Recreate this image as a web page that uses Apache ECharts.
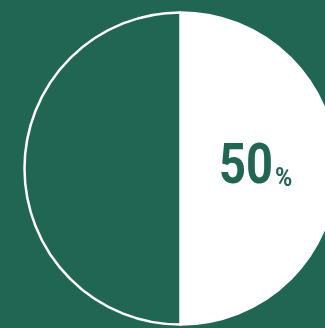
<!DOCTYPE html>
<html>
<head>
<meta charset="utf-8">
<script src="https://cdn.jsdelivr.net/npm/echarts@6/dist/echarts.min.js"></script>
<style>
  html, body { margin: 0; padding: 0; background: #216652; }
  #main { width: 325px; height: 328px; }
</style>
</head>
<body>
<div id="main"></div>
<script>
const sliceNames = ["done", "rest"];
const sliceValues = [50, 50];
const sliceColors = ["#ffffff", "#216652"];
const percentLabel = "50";
const percentSign = "%";

const chart = echarts.init(document.getElementById("main"), null, { renderer: "canvas" });

chart.setOption({
  backgroundColor: "#216652",
  animation: false,
  series: [
    {
      type: "pie",
      center: [180.5, 168.5],
      radius: [0, 156],
      startAngle: 90,
      clockwise: true,
      silent: true,
      label: { show: false },
      labelLine: { show: false },
      itemStyle: { borderColor: "#ffffff", borderWidth: 2.5 },
      data: sliceNames.map((n, i) => ({
        name: n,
        value: sliceValues[i],
        itemStyle: { color: sliceColors[i] },
      })),
    },
  ],
  graphic: [
    {
      type: "text",
      z: 100,
      x: 219,
      y: 169,
      scaleX: 0.84,
      style: {
        text: percentLabel,
        fill: "#216652",
        font: "bold 56px Roboto",
        align: "left",
        verticalAlign: "middle",
      },
    },
    {
      type: "text",
      z: 100,
      x: 275,
      y: 179,
      scaleX: 0.9,
      style: {
        text: percentSign,
        fill: "#216652",
        font: "bold 26px Roboto",
        align: "left",
        verticalAlign: "middle",
      },
    },
  ],
});
</script>
</body>
</html>
